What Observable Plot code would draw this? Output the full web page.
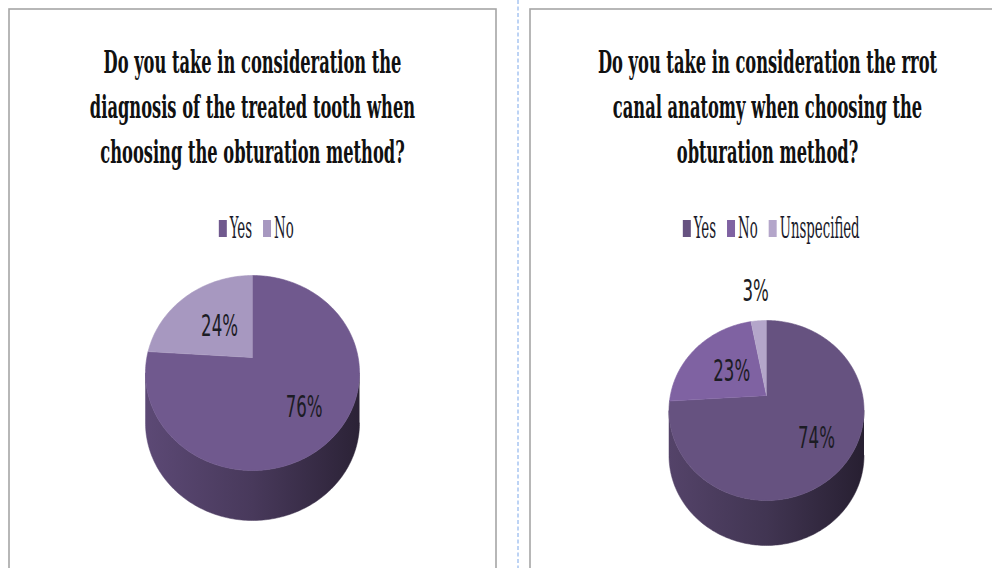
<!DOCTYPE html>
<html><head><meta charset="utf-8">
<script src="https://cdn.jsdelivr.net/npm/d3@7"></script>
<script src="https://cdn.jsdelivr.net/npm/@observablehq/plot@0.6"></script>
<style>html,body{margin:0;padding:0;background:#fff;overflow:hidden}</style>
</head><body><div id="chart"></div>
<script>
// ---------- data ----------
const titles1 = ["Do you take in consideration the", "diagnosis of the treated tooth when", "choosing the obturation method?"];
const titles2 = ["Do you take in consideration the rrot", "canal anatomy when choosing the", "obturation method?"];
const categories1 = ["Yes", "No"];
const values1 = [76, 24];
const categories2 = ["Yes", "No", "Unspecified"];
const values2 = [74, 23, 3];

// ---------- style ----------
const colors1 = ["#70598e", "#a798c0"];
const colors2 = ["#665280", "#7f62a2", "#b4a6ca"];

const W = 992, H = 568;
const SERIF = '"DejaVu Serif Condensed","DejaVu Serif",serif';
const SANS = '"DejaVu Sans Condensed","DejaVu Sans",sans-serif';
const TITLE_FONT = {family: SERIF, size: 32, weight: "bold"};
const LEGEND_FONT = {family: SERIF, size: 30, weight: "normal"};
const LABEL_FONT = {family: SANS, size: 31, weight: "normal"};

const ctx = document.createElement("canvas").getContext("2d");
function natural(s, f) { ctx.font = `${f.weight} ${f.size}px ${f.family}`; return ctx.measureText(s).width; }
// horizontal compression of the condensed fonts
TITLE_FONT.factor = 298 / natural("Do you take in consideration the", TITLE_FONT);
LEGEND_FONT.factor = 80 / natural("Unspecified", LEGEND_FONT);
LABEL_FONT.factor = 37 / natural("76%", LABEL_FONT);
const fontsBySize = {[TITLE_FONT.size]: TITLE_FONT, [LEGEND_FONT.size]: LEGEND_FONT, [LABEL_FONT.size]: LABEL_FONT};
function width(s, f) { return natural(s, f) * f.factor; }

// ---------- layout ----------
const panels = [
  {cx: 252, left: 9, right: 496, titles: titles1, cats: categories1, vals: values1, colors: colors1,
   pie: {cx: 252, vy: 357, top: 275, bottom: 470, rx: 107, depth: 50}},
  {cx: 767, left: 530, right: 1012, titles: titles2, cats: categories2, vals: values2, colors: colors2,
   pie: {cx: 766, vy: 395, top: 320, bottom: 500, rx: 97.5, depth: 45}}
];

const frames = [], titleRows = [], swatches = [], legendTexts = [];
const topPts = [], wallPts = [], labels = [], gradients = [];

panels.forEach((p, pi) => {
  frames.push({left: p.left, right: p.right, top: 9, bottom: H + 20});
  p.titles.forEach((t, i) => titleRows.push({x: p.cx, y: 72 + 45 * i, text: t}));

  // legend
  const items = p.cats.map((c, i) => ({c, color: p.colors[i], tw: width(c, LEGEND_FONT)}));
  const sw = 8, g1 = 2.5, g2 = 11.5;
  const total = d3.sum(items, d => sw + g1 + d.tw) + g2 * (items.length - 1);
  let lx = p.cx + 4 - total / 2;
  items.forEach(d => {
    swatches.push({x1: lx, x2: lx + sw, y1: 220, y2: 237, color: d.color});
    legendTexts.push({x: lx + sw + g1, y: 237, text: d.c});
    lx += sw + g1 + d.tw + g2;
  });

  // 3D pie with perspective
  const P = p.pie;
  const a = P.vy - P.top, b = P.bottom - P.vy;
  const k = (b - a) / (a + b);
  const R = P.rx * Math.sqrt(1 - k * k);
  const pt = (th, f, dz) => {
    const u = f * Math.sin(th), v = f * Math.cos(th), d = 1 + k * v;
    return {x: P.cx + R * u / d, y: P.vy - a * (1 + k) * v / d + dz};
  };
  const ths = Math.acos(-k);
  const sum = d3.sum(p.vals);
  let acc = 0;
  p.vals.forEach((val, i) => {
    const a0 = acc / sum * 2 * Math.PI; acc += val;
    const a1 = acc / sum * 2 * Math.PI;
    const key = `p${pi}s${i}`;
    const arc = (s, e, dz) => {
      const n = Math.max(2, Math.ceil(Math.abs(e - s) / (Math.PI / 180)));
      return d3.range(n + 1).map(j => pt(s + (e - s) * j / n, 1, dz));
    };
    // top face
    topPts.push({...pt(0, 0, 0), key, fill: p.colors[i]});
    arc(a0, a1, 0).forEach(q => topPts.push({...q, key, fill: p.colors[i]}));
    // front wall
    const s = Math.max(a0, ths), e = Math.min(a1, 2 * Math.PI - ths);
    if (e > s) {
      const id = `wall-${key}`;
      gradients.push({id, color: p.colors[i]});
      const fill = `url(#${id})`;
      arc(s, e, 0).forEach(q => wallPts.push({...q, key, fill}));
      arc(e, s, P.depth).forEach(q => wallPts.push({...q, key, fill}));
    }
    // label
    const frac = val / sum, mid = (a0 + a1) / 2;
    const f = frac >= 0.5 ? 0.66 : frac >= 0.1 ? 0.48 : 1.5;
    labels.push({...pt(mid, f, 0), text: `${val}%`});
  });
});

const svg = Plot.plot({
  width: W, height: H, margin: 0,
  x: {domain: [0, W], range: [0, W], axis: null},
  y: {domain: [0, H], range: [0, H], axis: null},
  color: {type: "identity"},
  style: {background: "#fff"},
  marks: [
    Plot.rect(frames, {x1: "left", x2: "right", y1: "top", y2: "bottom", fill: "none", stroke: "#a6a6a6", strokeWidth: 1.6}),
    Plot.ruleX([517.5], {stroke: "#7ba7ea", strokeWidth: 1, strokeDasharray: "4,2.5"}),
    Plot.text(titleRows, {x: "x", y: "y", text: "text", fontFamily: TITLE_FONT.family, fontSize: TITLE_FONT.size, fontWeight: "bold", lineAnchor: "bottom", fill: "#111"}),
    Plot.rect(swatches, {x1: "x1", x2: "x2", y1: "y1", y2: "y2", fill: "color"}),
    Plot.text(legendTexts, {x: "x", y: "y", text: "text", textAnchor: "start", lineAnchor: "bottom", fontFamily: LEGEND_FONT.family, fontSize: LEGEND_FONT.size, fill: "#1a1a2a"}),
    Plot.line(wallPts, {x: "x", y: "y", z: "key", fill: "fill", stroke: "fill", strokeWidth: 0.5, curve: "linear"}),
    Plot.line(topPts, {x: "x", y: "y", z: "key", fill: "fill", stroke: "fill", strokeWidth: 0.6, curve: "linear"}),
    Plot.text(labels, {x: "x", y: "y", text: "text", fontFamily: LABEL_FONT.family, fontSize: LABEL_FONT.size, fill: "#1c1c24"})
  ]
});

// gradients for the shaded walls
const defs = d3.select(svg).insert("defs", ":first-child");
gradients.forEach(g => {
  const c = d3.color(g.color);
  const lg = defs.append("linearGradient").attr("id", g.id).attr("x1", 0).attr("x2", 1).attr("y1", 0).attr("y2", 0);
  [[0, 0.55], [0.5, 1.25], [1, 2.7]].forEach(([o, k]) =>
    lg.append("stop").attr("offset", o).attr("stop-color", c.darker(k).formatHex()));
});

document.getElementById("chart").append(svg);
// compress the text horizontally around its anchor, like the condensed original
svg.querySelectorAll("text").forEach(t => {
  const g = t.closest("g[font-size]");
  const f = g && fontsBySize[+parseFloat(g.getAttribute("font-size"))];
  if (!f) return;
  const tr = t.getAttribute("transform") || "";
  t.setAttribute("transform", `${tr} scale(${f.factor},1)`);
});
</script>
</body></html>
